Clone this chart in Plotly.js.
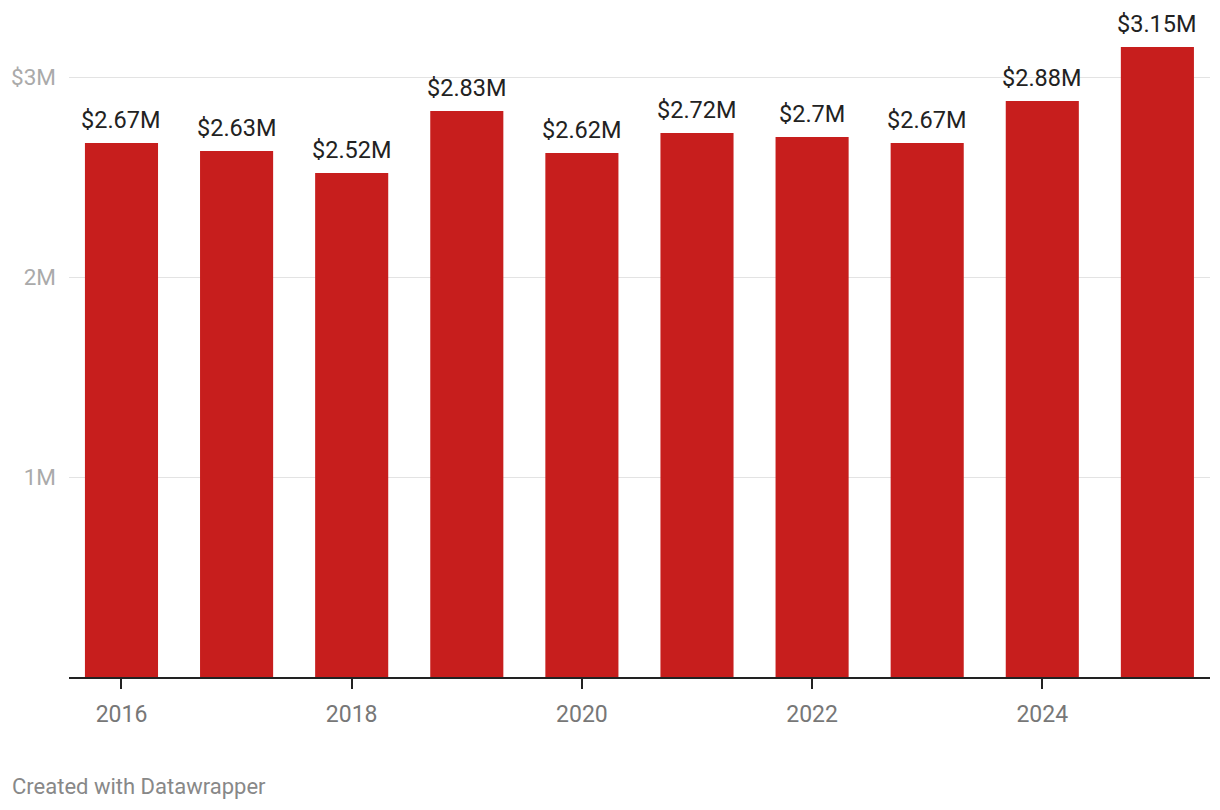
<!DOCTYPE html>
<html>
<head>
<meta charset="utf-8">
<script src="https://cdn.plot.ly/plotly-3.0.1.min.js"></script>
<style>html,body{margin:0;padding:0;background:#fff;}#chart{width:1220px;height:810px;}</style>
</head>
<body>
<div id="chart"></div>
<script>
const years = [2016, 2017, 2018, 2019, 2020, 2021, 2022, 2023, 2024, 2025];
const values = [2.67e6, 2.63e6, 2.52e6, 2.83e6, 2.62e6, 2.72e6, 2.70e6, 2.67e6, 2.88e6, 3.15e6];
const labels = ["$2.67M", "$2.63M", "$2.52M", "$2.83M", "$2.62M", "$2.72M", "$2.7M", "$2.67M", "$2.88M", "$3.15M"];
const yTickVals = [1e6, 2e6, 3e6];
const yTickText = ["1M", "2M", "$3M"];
const xTickVals = [2016, 2018, 2020, 2022, 2024];
const footer = "Created with Datawrapper";

const font = "Roboto, 'Noto Sans', sans-serif";
const W = 1220, H = 810, mL = 69, mR = 10, mT = 20, mB = 133;
const plotH = H - mT - mB, plotW = W - mL - mR;

const annotations = years.map((y, i) => ({
  x: y, y: values[i], xref: 'x', yref: 'y', text: labels[i], showarrow: false,
  yanchor: 'bottom', xanchor: 'center', yshift: 7,
  font: {family: font, size: 23.5, color: '#222'}
}));
annotations.push({
  xref: 'paper', yref: 'paper', x: (10 - mL) / plotW, y: -(787 - (H - mB)) / plotH,
  xanchor: 'left', yanchor: 'middle', text: footer, showarrow: false,
  font: {family: font, size: 22, color: '#888'}
});

Plotly.newPlot('chart', [{
  type: 'bar', x: years, y: values, width: 0.635,
  marker: {color: '#c71e1d', line: {width: 0}},
  hoverinfo: 'skip'
}], {
  width: W, height: H,
  margin: {l: mL, r: mR, t: mT, b: mB, pad: 0},
  paper_bgcolor: '#fff', plot_bgcolor: '#fff',
  showlegend: false,
  xaxis: {
    range: [2015.544, 2025.457], tickmode: 'array', tickvals: xTickVals,
    ticks: 'outside', ticklen: 10, tickwidth: 2, tickcolor: '#222',
    showline: true, linecolor: '#222', linewidth: 2, showgrid: false, zeroline: false,
    tickfont: {family: font, size: 23, color: '#777'}, ticklabelstandoff: 5
  },
  yaxis: {
    range: [0, 3.285e6], tickmode: 'array', tickvals: yTickVals, ticktext: yTickText,
    showgrid: true, gridcolor: '#e3e3e3', gridwidth: 1, zeroline: false, showline: false,
    ticks: '', ticklabelstandoff: 12,
    tickfont: {family: font, size: 22.5, color: '#aaa'}
  },
  annotations: annotations
}, {displayModeBar: false, staticPlot: true});
</script>
</body>
</html>
